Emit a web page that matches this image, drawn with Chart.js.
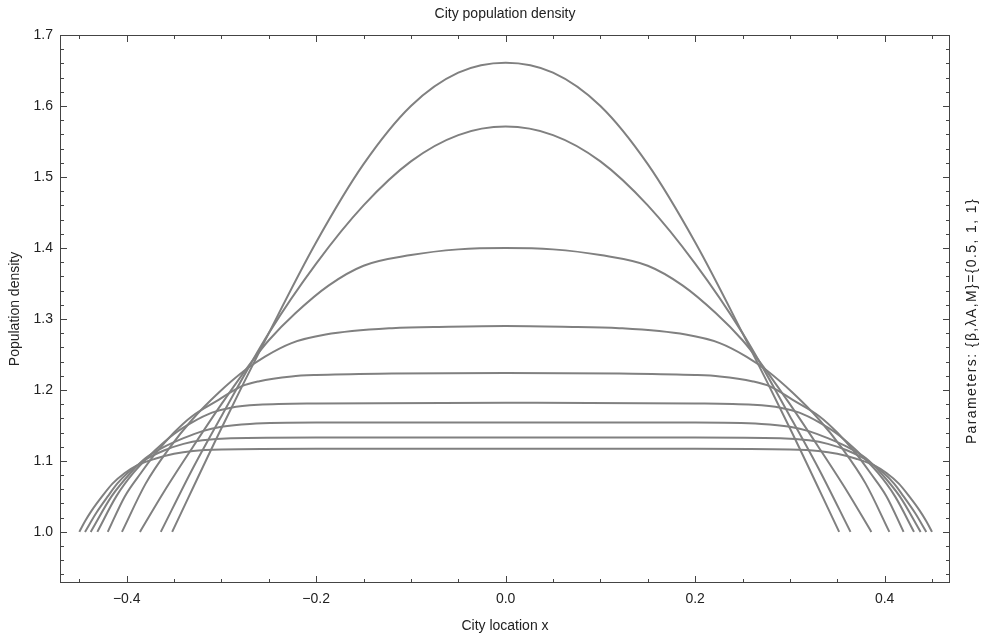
<!DOCTYPE html>
<html>
<head>
<meta charset="utf-8">
<title>City population density</title>
<script src="https://cdn.jsdelivr.net/npm/chart.js@4"></script>
<style>
  html, body { margin: 0; padding: 0; background: #fff; }
  #wrap { width: 981px; height: 637px; }
</style>
</head>
<body>
<div id="wrap"><canvas id="chartDensity"></canvas></div>
<script>
// tick labels
const xTicks = [-0.4, -0.2, 0, 0.2, 0.4];
const yTicks = [1.0, 1.1, 1.2, 1.3, 1.4, 1.5, 1.6, 1.7];

// right half of each profile (x >= 0); curves are symmetric
const curve1X = [0, 0.05, 0.1, 0.15, 0.2, 0.25, 0.3, 0.352];
const curve1Y = [1.661, 1.647, 1.600, 1.518, 1.408, 1.280, 1.146, 1.0];

const curve2X = [0, 0.05, 0.1, 0.15, 0.2, 0.25, 0.3, 0.33, 0.364];
const curve2Y = [1.571, 1.559, 1.522, 1.460, 1.378, 1.280, 1.163, 1.090, 1.0];

const curve3X = [0, 0.05, 0.1, 0.15, 0.187, 0.222, 0.25, 0.268, 0.3, 0.33, 0.36, 0.386];
const curve3Y = [1.400, 1.398, 1.390, 1.375, 1.347, 1.308, 1.270, 1.240, 1.180, 1.120, 1.058, 1.0];

const curve4X = [0, 0.06, 0.12, 0.19, 0.226, 0.254, 0.275, 0.303, 0.331, 0.355, 0.38, 0.405];
const curve4Y = [1.290, 1.289, 1.287, 1.278, 1.266, 1.247, 1.228, 1.196, 1.158, 1.118, 1.068, 1.0];

const curve5X = [0, 0.12, 0.2, 0.226, 0.261, 0.279, 0.303, 0.331, 0.35, 0.37, 0.385, 0.402, 0.42];
const curve5Y = [1.224, 1.223, 1.221, 1.219, 1.212, 1.205, 1.186, 1.163, 1.140, 1.110, 1.083, 1.050, 1.0];

const curve6X = [0, 0.2, 0.261, 0.29, 0.31, 0.33, 0.35, 0.37, 0.393, 0.411, 0.431];
const curve6Y = [1.182, 1.181, 1.179, 1.175, 1.168, 1.155, 1.138, 1.115, 1.083, 1.050, 1.0];

const curve7X = [0, 0.2, 0.27, 0.3, 0.32, 0.34, 0.36, 0.38, 0.396, 0.416, 0.438];
const curve7Y = [1.154, 1.154, 1.152, 1.148, 1.142, 1.132, 1.120, 1.104, 1.083, 1.050, 1.0];

const curve8X = [0, 0.2, 0.29, 0.32, 0.34, 0.36, 0.38, 0.399, 0.41, 0.42, 0.432, 0.444];
const curve8Y = [1.133, 1.133, 1.132, 1.129, 1.124, 1.115, 1.102, 1.083, 1.068, 1.050, 1.027, 1.0];

const curve9X = [0, 0.2, 0.3, 0.33, 0.35, 0.37, 0.39, 0.402, 0.415, 0.426, 0.437, 0.444, 0.45];
const curve9Y = [1.117, 1.117, 1.116, 1.114, 1.110, 1.103, 1.093, 1.083, 1.068, 1.050, 1.030, 1.015, 1.0];

const curves = [
  [curve1X, curve1Y], [curve2X, curve2Y], [curve3X, curve3Y],
  [curve4X, curve4Y], [curve5X, curve5Y], [curve6X, curve6Y],
  [curve7X, curve7Y], [curve8X, curve8Y], [curve9X, curve9Y]
];

// mirror the half profile to get the whole curve
function fullCurve(xs, ys) {
  const pts = [];
  for (let i = xs.length - 1; i > 0; i--) pts.push({x: -xs[i], y: ys[i]});
  for (let i = 0; i < xs.length; i++) pts.push({x: xs[i], y: ys[i]});
  return pts;
}

const FONT = '"Liberation Sans", Arial, sans-serif';
const TXT = '#222';
const FRAME = '#444';

// frame with inward ticks on all four sides, plot title and right hand label
const framePlugin = {
  id: 'frame',
  afterDraw(chart) {
    const {ctx, chartArea: a, scales} = chart;
    const xs = scales.x, ys = scales.y;
    ctx.save();
    ctx.strokeStyle = FRAME;
    ctx.lineWidth = 1;
    ctx.strokeRect(a.left + 0.5, a.top + 0.5, a.right - a.left - 1, a.bottom - a.top - 1);
    ctx.beginPath();
    for (let i = -9; i <= 9; i++) {          // x ticks every 0.05
      const px = Math.round(xs.getPixelForValue(i * 0.05)) + 0.5;
      const len = (i % 4 === 0) ? 7 : 4;
      ctx.moveTo(px, a.bottom); ctx.lineTo(px, a.bottom - len);
      ctx.moveTo(px, a.top); ctx.lineTo(px, a.top + len);
    }
    for (let j = 47; j <= 85; j++) {         // y ticks every 0.02
      const py = Math.round(ys.getPixelForValue(j * 0.02)) + 0.5;
      const len = (j % 5 === 0) ? 7 : 4;
      ctx.moveTo(a.left, py); ctx.lineTo(a.left + len, py);
      ctx.moveTo(a.right, py); ctx.lineTo(a.right - len, py);
    }
    ctx.stroke();

    ctx.fillStyle = TXT;
    ctx.font = '14px ' + FONT;
    ctx.textAlign = 'center';
    ctx.textBaseline = 'middle';
    ctx.fillText('City population density', (a.left + a.right) / 2, 14);

    ctx.translate(972, 321);
    ctx.rotate(-Math.PI / 2);
    ctx.letterSpacing = '1.4px';
    ctx.fillText('Parameters: {\u03B2,\u03BBA,M}={0.5, 1, 1}', 0, 0);
    ctx.restore();
  }
};

function drawDensityChart() {
  const ctx = document.getElementById('chartDensity').getContext('2d');

  new Chart(ctx, {
    type: 'scatter',
    data: {
      datasets: curves.map(c => ({
        data: fullCurve(c[0], c[1]),
        showLine: true,
        borderColor: '#808080',
        borderWidth: 2,
        pointRadius: 0,
        cubicInterpolationMode: 'monotone',
        fill: false
      }))
    },
    options: {
      responsive: true,
      maintainAspectRatio: false,
      animation: false,
      layout: { padding: { left: 0, right: 31, top: 35, bottom: 0 } },
      plugins: {
        legend: { display: false },
        tooltip: { enabled: false },
        title: { display: false }
      },
      scales: {
        x: {
          type: 'linear',
          min: -0.4704,
          max: 0.469,
          afterFit: function(scale) { scale.height = 54; },
          afterBuildTicks: function(scale) { scale.ticks = xTicks.map(v => ({value: v})); },
          grid: { display: false, drawTicks: false },
          border: { display: false },
          ticks: {
            padding: 8,
            color: TXT,
            font: { family: FONT, size: 14 },
            callback: function(value) {
              const s = Math.abs(value).toFixed(1);
              return value < -1e-9 ? '\u2212' + s : s;
            }
          },
          title: {
            display: true,
            text: 'City location x',
            color: TXT,
            font: { family: FONT, size: 14 },
            padding: { top: 2, bottom: 2 }
          }
        },
        y: {
          type: 'linear',
          min: 0.928,
          max: 1.7,
          afterFit: function(scale) { scale.width = 60; },
          afterBuildTicks: function(scale) { scale.ticks = yTicks.map(v => ({value: v})); },
          grid: { display: false, drawTicks: false },
          border: { display: false },
          ticks: {
            padding: 7,
            color: TXT,
            font: { family: FONT, size: 14 },
            callback: function(value) { return value.toFixed(1); }
          },
          title: {
            display: true,
            text: 'Population density',
            color: TXT,
            font: { family: FONT, size: 14 },
            padding: { top: 7, bottom: 7 }
          }
        }
      }
    },
    plugins: [framePlugin]
  });
}

document.addEventListener('DOMContentLoaded', function() {
  drawDensityChart();
});
</script>
</body>
</html>
